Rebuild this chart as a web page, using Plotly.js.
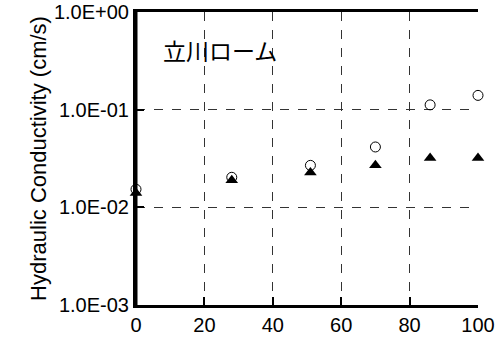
<!DOCTYPE html>
<html>
<head>
<meta charset="utf-8">
<script src="https://cdn.plot.ly/plotly-3.0.1.min.js"></script>
<style>html,body{margin:0;padding:0;background:#fff;}#chart{width:495px;height:351px;}#err{position:absolute;left:150px;top:200px;font:10px sans-serif;color:red;width:320px;}</style>
</head>
<body>
<div id="chart"></div>
<div id="err"></div>
<script>
window.onerror = function(m){ document.getElementById('err').textContent += ' ERR:' + m; };
const xValues = [0, 28, 51, 70, 86, 100];
const circleValues = [0.0153, 0.0203, 0.0269, 0.0415, 0.112, 0.140];
const triangleValues = [0.014, 0.0189, 0.0228, 0.0269, 0.032, 0.032];
const xTicks = [0, 20, 40, 60, 80, 100];
const yTickVals = [0.001, 0.01, 0.1, 1];
const yTickText = ["1.0E-03", "1.0E-02", "1.0E-01", "1.0E+00"];
const yTitle = "Hydraulic Conductivity (cm/s)";
const label = "立川ローム";

const traces = [
  {x: xValues, y: circleValues, type: 'scatter', mode: 'markers', cliponaxis: false,
   marker: {symbol: 'circle-open', size: 10, color: '#000', line: {color: '#000', width: 1}}},
  {x: xValues, y: triangleValues, type: 'scatter', mode: 'markers', cliponaxis: false,
   marker: {symbol: 'triangle-up', size: 11, color: '#000', line: {width: 0}}}
];

const frameLine = {color: '#000', width: 3};
const layout = {
  width: 495, height: 351,
  margin: {l: 136, r: 17, t: 12, b: 46, pad: 0},
  showlegend: false,
  paper_bgcolor: '#fff', plot_bgcolor: '#fff',
  font: {family: '"Liberation Sans", Arial, sans-serif', color: '#000', size: 20},
  xaxis: {
    range: [0, 100], tickvals: xTicks, ticktext: xTicks.map(String),
    showgrid: true, gridcolor: '#333', griddash: 'dash', gridwidth: 1,
    showline: true, linecolor: '#000', linewidth: 3, mirror: true,
    ticks: 'inside', ticklen: 8, tickcolor: '#000', tickwidth: 2,
    zeroline: false, tickfont: {size: 20}
  },
  yaxis: {
    type: 'log', range: [-3, 0], tickvals: yTickVals, ticktext: yTickText,
    showgrid: true, gridcolor: '#333', griddash: 'dash', gridwidth: 1,
    showline: true, linecolor: '#000', linewidth: 3,
    ticks: 'inside', ticklen: 8, tickcolor: '#000', tickwidth: 2,
    zeroline: false, tickfont: {size: 20},
    title: {text: yTitle, font: {size: 22}, standoff: 2}
  },
  shapes: [
    {type: 'line', xref: 'paper', yref: 'paper', x0: 0, x1: 0, y0: 0, y1: 1, line: frameLine, layer: 'above'}
  ],
  annotations: [{
    text: label, xref: 'paper', yref: 'paper', x: 0.245, y: 0.87,
    xanchor: 'center', yanchor: 'middle', showarrow: false,
    font: {family: '"Noto Sans CJK JP", sans-serif', size: 23, color: '#000'}
  }]
};

Plotly.newPlot('chart', traces, layout, {displayModeBar: false, staticPlot: true}).then(function(){
  document.getElementById('err').textContent += '\u00a0';
}).catch(function(e){ document.getElementById('err').textContent += ' CATCH:' + e; });
</script>
</body>
</html>
